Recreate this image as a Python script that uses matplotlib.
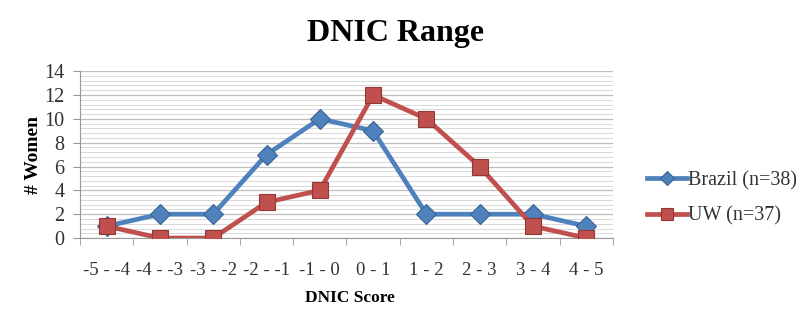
import numpy as np
import matplotlib
matplotlib.use('Agg')
from matplotlib import pyplot as plt
from matplotlib.ticker import MultipleLocator

categories = ['-5 - -4', '-4 - -3', '-3 - -2', '-2 - -1', '-1 - 0',
              '0 - 1', '1 - 2', '2 - 3', '3 - 4', '4 - 5']
brazil = [1, 2, 2, 7, 10, 9, 2, 2, 2, 1]
uw = [1, 0, 0, 3, 4, 12, 10, 6, 1, 0]

plt.rcParams['font.family'] = ['Liberation Serif', 'DejaVu Serif']

fig = plt.figure(figsize=(7.96, 3.12), dpi=100)
ax = fig.add_axes([0.1005, 0.237, 0.6695, 0.535])

x = np.arange(len(categories))
ax.plot(x, brazil, color='#4F81BD', lw=3.4, marker='D', markersize=10,
        markerfacecolor='#4F81BD', markeredgecolor='#3A6595', markeredgewidth=0.8,
        label='Brazil (n=38)', zorder=3)
ax.plot(x, uw, color='#C0504D', lw=3.4, marker='s', markersize=12,
        markerfacecolor='#C0504D', markeredgecolor='#943634', markeredgewidth=0.8,
        label='UW (n=37)', zorder=3)

ax.set_xlim(-0.5, len(categories) - 0.5)
ax.set_ylim(0, 14)
ax.yaxis.set_major_locator(MultipleLocator(2))
ax.yaxis.set_minor_locator(MultipleLocator(0.4))
ax.grid(axis='y', which='major', color='#BFBFBF', lw=0.9)
ax.grid(axis='y', which='minor', color='#D9D9D9', lw=0.7)
ax.set_axisbelow(True)

ax.set_xticks(x)
ax.set_xticklabels(categories, fontsize=13.5, color='#333333')
ax.set_xticks(np.arange(-0.5, len(categories)), minor=True)
ax.tick_params(axis='x', which='major', length=0, pad=17)
ax.tick_params(axis='x', which='minor', length=5, color='#999999')
ax.tick_params(axis='y', which='major', labelsize=14.5, labelcolor='#333333',
               length=5, color='#999999', pad=6)
ax.tick_params(axis='y', which='minor', length=0)

for s in ['top', 'right']:
    ax.spines[s].set_visible(False)
ax.spines['left'].set_color('#999999')
ax.spines['bottom'].set_color('#999999')

ax.set_ylabel('# Women', fontsize=14, fontweight='bold', labelpad=2)
fig.text(0.44, 1 - 298 / 312, 'DNIC Score', fontsize=12.5, fontweight='bold',
         ha='center', va='center')
fig.text(0.497, 1 - 33 / 312, 'DNIC Range', fontsize=23, fontweight='bold',
         ha='center', va='center')

leg = ax.legend(loc='center left', bbox_to_anchor=(1.03, 0.237), frameon=False,
                fontsize=14.5, handlelength=2.0, handletextpad=0.05,
                labelspacing=0.8, markerscale=0.75)
for t in leg.get_texts():
    t.set_color('#333333')

fig.savefig('out.png', dpi=100)
